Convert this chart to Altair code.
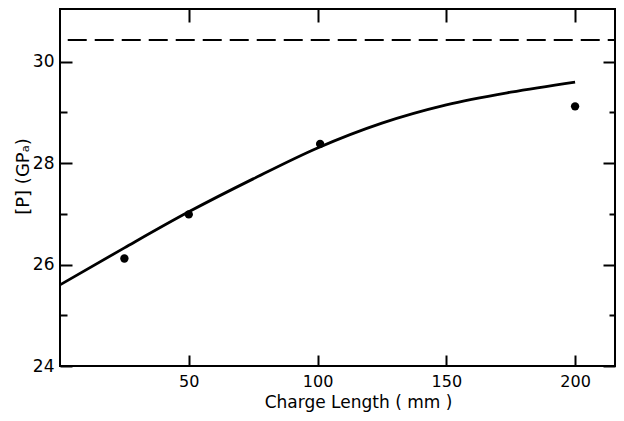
import altair as alt
import pandas as pd

# ---- data ----
curve_x = [0, 25, 50, 75, 100, 125, 150, 175, 200]
curve_y = [25.60, 26.33, 27.04, 27.69, 28.30, 28.79, 29.15, 29.40, 29.60]
point_x = [25, 50, 101, 200]
point_y = [26.12, 26.99, 28.38, 29.12]
limit_x = [3, 215.5]
limit_y = [30.43, 30.43]
x_ticks = [50, 100, 150, 200]
y_major = [24, 26, 28, 30]
y_minor = [25, 27, 29]
X_DOMAIN = [0, 215.5]
Y_DOMAIN = [24, 31.04]

FONT = "DejaVu Sans"

curve = pd.DataFrame({"x": curve_x, "y": curve_y})
points = pd.DataFrame({"x": point_x, "y": point_y})
limit = pd.DataFrame({"x": limit_x, "y": limit_y})

xs = alt.Scale(domain=X_DOMAIN, nice=False, zero=False)
ys = alt.Scale(domain=Y_DOMAIN, nice=False, zero=False)


def ax(orient, values, size, **kw):
    base = dict(orient=orient, values=values, tickSize=size, offset=-size,
                domain=False, grid=False, tickColor="black", tickWidth=2,
                labels=False)
    base.update(kw)
    return alt.Axis(**base)


x_bottom = ax("bottom", x_ticks, 11, labels=True, labelFont=FONT, labelFontSize=16,
              labelColor="black", labelPadding=7, format="d",
              titleFont=FONT, titleFontSize=17, titleFontWeight="normal",
              titleColor="black", titleX=298, titleY=52,
              titleBaseline="alphabetic")
x_top = ax("top", x_ticks, 13)

y_left_major = ax("left", y_major, 12, labels=True, labelFont=FONT, labelFontSize=17,
                  labelColor="black", labelPadding=6, format="d",
                  titleFont=FONT, titleFontSize=18, titleFontWeight="normal",
                  titleColor="black", titleX=-49, titleY=167,
                  titleBaseline="middle", titleAlign="center")
y_left_minor = ax("left", y_minor, 7)
y_right_major = ax("right", y_major, 12)
y_right_minor = ax("right", y_minor, 6)

line = alt.Chart(curve).mark_line(color="black", strokeWidth=2.8,
                                  interpolate="monotone").encode(
    x=alt.X("x:Q", scale=xs, axis=x_bottom, title="Charge Length ( mm )"),
    y=alt.Y("y:Q", scale=ys, axis=y_left_major, title="[P] (GPₐ)"),
)

dashed = alt.Chart(limit).mark_line(color="black", strokeWidth=2,
                                    strokeDash=[19, 8]).encode(
    x=alt.X("x:Q", scale=xs, axis=x_top, title=None),
    y=alt.Y("y:Q", scale=ys, axis=y_left_minor, title=None),
)

dots = alt.Chart(points).mark_circle(color="black", size=70, opacity=1).encode(
    x=alt.X("x:Q", scale=xs, axis=None),
    y=alt.Y("y:Q", scale=ys, axis=y_right_major, title=None),
)

dots2 = alt.Chart(points).mark_circle(color="black", size=70, opacity=0).encode(
    x=alt.X("x:Q", scale=xs, axis=None),
    y=alt.Y("y:Q", scale=ys, axis=y_right_minor, title=None),
)

chart = alt.layer(line, dashed, dots, dots2).resolve_axis(
    x="independent", y="independent"
).properties(
    width=555, height=357,
    padding={"left": 52, "top": 1, "right": 1, "bottom": 47},
    autosize=alt.AutoSizeParams(type="none"),
    background="white",
).configure_view(stroke="black", strokeWidth=2)

chart.save("out.html", embed_options={"renderer": "svg", "actions": False})
